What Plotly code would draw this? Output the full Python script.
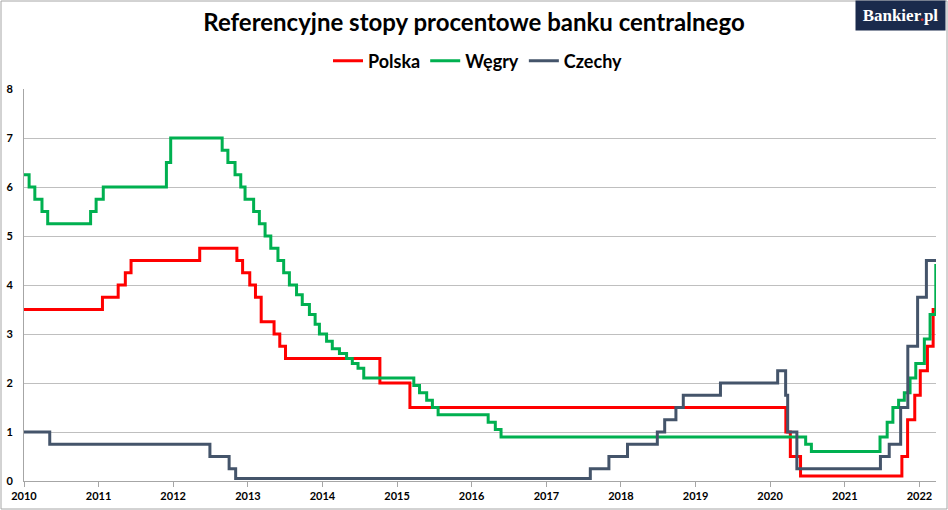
import plotly.graph_objects as go

# koniec okresu na wykresie
end_date = "2022-03-23"

# Polska - stopa referencyjna NBP
pl_dates = ["2010-01-01", "2011-01-20", "2011-04-07", "2011-05-12", "2011-06-09",
            "2012-05-10", "2012-11-08", "2012-12-06", "2013-01-10", "2013-02-07",
            "2013-03-07", "2013-05-09", "2013-06-06", "2013-07-04", "2014-10-09",
            "2015-03-05", "2020-03-18", "2020-04-09", "2020-05-29", "2021-10-07",
            "2021-11-04", "2021-12-09", "2022-01-05", "2022-02-09", "2022-03-09"]
pl_rates = [3.5, 3.75, 4.0, 4.25, 4.5,
            4.75, 4.5, 4.25, 4.0, 3.75,
            3.25, 3.0, 2.75, 2.5, 2.0,
            1.5, 1.0, 0.5, 0.1, 0.5,
            1.25, 1.75, 2.25, 2.75, 3.5]

# Węgry - stopa bazowa MNB
hu_dates = ["2010-01-01", "2010-01-26", "2010-02-23", "2010-03-30", "2010-04-27",
            "2010-11-23", "2010-12-20", "2011-01-24", "2011-11-29", "2011-12-20",
            "2012-08-28", "2012-09-25", "2012-10-30", "2012-11-27", "2012-12-18",
            "2013-01-29", "2013-02-26", "2013-03-26", "2013-04-23", "2013-05-28",
            "2013-06-25", "2013-07-23", "2013-08-27", "2013-09-24", "2013-10-29",
            "2013-11-26", "2013-12-17", "2014-01-21", "2014-02-18", "2014-03-25",
            "2014-04-29", "2014-05-27", "2014-06-24", "2014-07-22", "2015-03-24",
            "2015-04-21", "2015-05-26", "2015-06-23", "2015-07-21", "2016-03-22",
            "2016-04-26", "2016-05-24", "2020-06-23", "2020-07-21", "2021-06-22",
            "2021-07-27", "2021-08-24", "2021-09-21", "2021-10-19", "2021-11-16",
            "2021-12-14", "2022-01-25", "2022-02-22", "2022-03-22"]
hu_rates = [6.25, 6.0, 5.75, 5.5, 5.25,
            5.5, 5.75, 6.0, 6.5, 7.0,
            6.75, 6.5, 6.25, 6.0, 5.75,
            5.5, 5.25, 5.0, 4.75, 4.5,
            4.25, 4.0, 3.8, 3.6, 3.4,
            3.2, 3.0, 2.85, 2.7, 2.6,
            2.5, 2.4, 2.3, 2.1, 1.95,
            1.8, 1.65, 1.5, 1.35, 1.2,
            1.05, 0.9, 0.75, 0.6, 0.9,
            1.2, 1.5, 1.65, 1.8, 2.1,
            2.4, 2.9, 3.4, 4.4]

# Czechy - stopa 2T repo CNB
cz_dates = ["2010-01-01", "2010-05-07", "2012-06-29", "2012-10-01", "2012-11-02",
            "2017-08-04", "2017-11-03", "2018-02-02", "2018-06-28", "2018-08-03",
            "2018-09-27", "2018-11-02", "2019-05-03", "2020-02-07", "2020-03-17",
            "2020-03-27", "2020-05-11", "2021-06-24", "2021-08-06", "2021-10-01",
            "2021-11-05", "2021-12-23", "2022-02-04"]
cz_rates = [1.0, 0.75, 0.5, 0.25, 0.05,
            0.25, 0.5, 0.75, 1.0, 1.25,
            1.5, 1.75, 2.0, 2.25, 1.75,
            1.0, 0.25, 0.5, 0.75, 1.5,
            2.75, 3.75, 4.5]

series = [
    ("Polska", pl_dates, pl_rates, "#ff0000"),
    ("Węgry", hu_dates, hu_rates, "#00b050"),
    ("Czechy", cz_dates, cz_rates, "#44546a"),
]

fig = go.Figure()
for name, d, v, col in series:
    fig.add_trace(go.Scatter(
        x=d + [end_date],
        y=v + [v[-1]],
        mode="lines",
        line=dict(shape="hv", color=col, width=3),
        name=name,
    ))

# rozmiar obszaru wykresu w pikselach (do ramki i logo)
W, H = 948, 510
ml, mr, mt, mb = 24, 12, 89, 29
pw, ph = W - ml - mr, H - mt - mb

def px_x(p):
    return (p - ml) / pw

def px_y(p):
    return (H - mb - p) / ph

fig.update_layout(
    width=W, height=H,
    margin=dict(l=ml, r=mr, t=mt, b=mb, autoexpand=False),
    plot_bgcolor="white",
    paper_bgcolor="white",
    title=dict(
        text="Referencyjne stopy procentowe banku centralnego",
        x=px_x(474), xref="paper", xanchor="center",
        y=1 - 23 / H, yanchor="middle",
        font=dict(family="Lato", size=24, color="black", weight="bold"),
    ),
    legend=dict(
        orientation="h",
        x=px_x(478), xanchor="center",
        y=px_y(61), yanchor="middle",
        font=dict(family="Lato", size=18, color="black", weight="bold"),
        itemwidth=30,
        bgcolor="rgba(0,0,0,0)",
    ),
    showlegend=True,
    xaxis=dict(
        type="date",
        range=["2010-01-01", end_date],
        dtick="M12",
        tick0="2010-01-01",
        tickformat="%Y",
        showgrid=False,
        automargin=False,
        showline=True, linecolor="#a6a6a6", linewidth=1,
        ticks="outside", ticklen=5, tickcolor="#a6a6a6",
        tickfont=dict(family="Lato", size=11, color="black", weight="bold"),
    ),
    yaxis=dict(
        range=[0, 8],
        dtick=1,
        showgrid=True, gridcolor="#bfbfbf", gridwidth=1,
        zeroline=False,
        automargin=False,
        showline=True, linecolor="#a6a6a6", linewidth=1,
        ticks="",
        ticklabelstandoff=8,
        tickfont=dict(family="Lato", size=11, color="black", weight="bold"),
    ),
    shapes=[dict(
        type="rect", xref="paper", yref="paper",
        x0=px_x(1), x1=px_x(W - 1), y0=px_y(H - 1), y1=px_y(1),
        line=dict(color="#a6a6a6", width=1), fillcolor="rgba(0,0,0,0)",
        layer="below",
    )],
    annotations=[dict(
        text="Bankier<span style='color:#e4322b'>.</span>pl",
        xref="paper", yref="paper",
        x=px_x(946), y=px_y(0),
        xanchor="right", yanchor="top",
        showarrow=False,
        width=89, height=29, borderpad=0,
        bgcolor="#1a2a4c",
        font=dict(family="Liberation Serif", size=17, color="white", weight="bold"),
    )],
)

fig.write_html("out.html", config={"displayModeBar": False},
               post_script="document.body.style.margin='0px';")
